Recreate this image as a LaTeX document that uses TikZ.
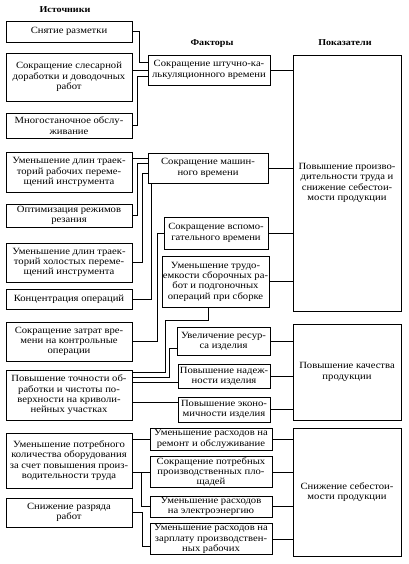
\documentclass[tikz,border=0pt]{standalone}
\usepackage{fontspec}
\setmainfont{Liberation Serif}[FakeStretch=1.12]
\begin{document}
\begin{tikzpicture}[x=1pt, y=-1pt,
    every node/.style={font=\fontsize{9.5}{10.3}\selectfont, align=center, inner sep=1pt},
    src/.style={draw, line width=.8pt, minimum width=126pt},
    fac/.style={draw, line width=.8pt},
    res/.style={draw, line width=.8pt, minimum width=108pt},
    head/.style={font=\fontsize{9}{10}\selectfont\bfseries},
    link/.style={line width=.6pt}]
  \useasboundingbox (0,0) rectangle (408,564);
  \node[head] (h1) at (65,10) {Источники};
  \node[head] (h2) at (212,44) {Факторы};
  \node[head] (h3) at (345,43) {Показатели};

  \node[src, minimum height=21pt] (s1) at (69,31.5) {Снятие разметки};
  \node[src, minimum height=48pt] (s2) at (69,77) {Сокращение слесарной\\доработки и доводочных\\работ};
  \node[src, minimum height=25pt] (s3) at (69,125.5) {Многостаночное обслу-\\живание};
  \node[src, minimum height=40pt] (s4) at (69,172) {Уменьшение длин траек-\\торий рабочих переме-\\щений инструмента};
  \node[src, minimum height=23pt] (s5) at (69,215.5) {Оптимизация режимов\\резания};
  \node[src, minimum height=39pt] (s6) at (69,262.5) {Уменьшение длин траек-\\торий холостых переме-\\щений инструмента};
  \node[src, minimum height=20pt] (s7) at (69,299) {Концентрация операций};
  \node[src, minimum height=39pt] (s8) at (69,341.5) {Сокращение затрат вре-\\мени на контрольные\\операции};
  \node[src, minimum height=50pt] (s9) at (69,395) {Повышение точности об-\\работки и чистоты по-\\верхности на криволи-\\нейных участках};
  \node[src, minimum height=55pt] (s10) at (69,460.5) {Уменьшение потребного\\количества оборудования\\за счет повышения произ-\\водительности труда};
  \node[src, minimum height=29pt] (s11) at (69,512.5) {Снижение разряда\\работ};

  \node[fac, minimum width=122pt, minimum height=30pt] (A) at (209,70) {Сокращение штучно-ка-\\лькуляционного времени};
  \node[fac, minimum width=120pt, minimum height=30pt] (B) at (208,168) {Сокращение машин-\\ного времени};
  \node[fac, minimum width=104pt, minimum height=32pt] (C) at (216,233) {Сокращение вспомо-\\гательного времени};
  \node[fac, minimum width=105pt, minimum height=51pt] (D) at (215.5,281.5) {Уменьшение трудо-\\емкости сборочных ра-\\бот и подгоночных\\операций при сборке};
  \node[fac, minimum width=93pt, minimum height=28pt] (E) at (223.5,341) {Увеличение ресур-\\са изделия};
  \node[fac, minimum width=92pt, minimum height=24pt] (F) at (224,376) {Повышение надеж-\\ности изделия};
  \node[fac, minimum width=92pt, minimum height=25pt] (G) at (224,409.5) {Повышение эконо-\\мичности изделия};
  \node[fac, minimum width=122pt, minimum height=22pt] (H) at (211,439) {Уменьшение расходов на\\ремонт и обслуживание};
  \node[fac, minimum width=122pt, minimum height=30pt] (I) at (211,472) {Сокращение потребных\\производственных пло-\\щадей};
  \node[fac, minimum width=122pt, minimum height=21pt] (J) at (211,506.5) {Уменьшение расходов\\на электроэнергию};
  \node[fac, minimum width=122pt, minimum height=28pt] (K) at (211,539) {Уменьшение расходов на\\зарплату производствен-\\ных рабочих};

  \node[res, minimum height=256pt] (R1) at (347,183) {Повышение произво-\\дительности труда и\\снижение себестои-\\мости продукции};
  \node[res, minimum height=96pt] (R2) at (347,372) {Повышение качества\\продукции};
  \node[res, minimum height=128pt] (R3) at (347,492) {Снижение себестои-\\мости продукции};

  \coordinate (a1) at ([yshift=8pt]A.west);
  \coordinate (a2) at ([yshift=-6pt]A.west);
  \coordinate (b1) at ([yshift=10pt]B.west);
  \coordinate (b2) at ([yshift=5pt]B.west);
  \coordinate (b3) at ([yshift=-5pt]B.west);
  \coordinate (d9) at ([yshift=23pt]s9.east);
  \coordinate (e9) at ([yshift=18pt]s9.east);
  \coordinate (f9) at ([yshift=13pt]s9.east);
  \coordinate (g9) at ([yshift=-7pt]s9.east);

  \draw[link] (s1.east) -- ++(7,0) |- (a1);
  \draw[link] (s2.east |- A.west) -- (A.west);
  \draw[link] (s3.east) -- ++(5,0) |- (a2);
  \draw[link] (s4.east |- b1) -- (b1);
  \draw[link] (s5.east) -- ++(5,0) |- (b2);
  \draw[link] (s6.east) -- ++(10,0) |- (b3);
  \draw[link] (s7.east) -| ([xshift=4pt]B.south west);
  \draw[link] (s8.east) -- ++(25,0) |- (C.west);
  \draw[link] ([xshift=-7pt]D.south) -- ++(0,13) -| ([xshift=33pt]d9) -- (d9);
  \draw[link] ([yshift=-7pt]E.west) -- ++(-7,0) |- (e9);
  \draw[link] (f9) -- (f9 -| F.west);
  \draw[link] (g9) -- (g9 -| G.west);
  \draw[link] (s10.east |- H.west) -- (H.west);
  \draw[link] (s10.east |- I.west) -- (I.west);
  \draw[link] (I.west) ++(-8,0) |- (J.west);
  \draw[link] (s11.east) -- ++(10,0) |- ([yshift=-7pt]K.west);

  \foreach \f in {A,B,C,D} \draw[link] (\f.east) -- (\f.east -| R1.west);
  \foreach \f in {E,F,G} \draw[link] (\f.east) -- (\f.east -| R2.west);
  \foreach \f in {H,I,J,K} \draw[link] (\f.east) -- (\f.east -| R3.west);
\end{tikzpicture}
\end{document}
